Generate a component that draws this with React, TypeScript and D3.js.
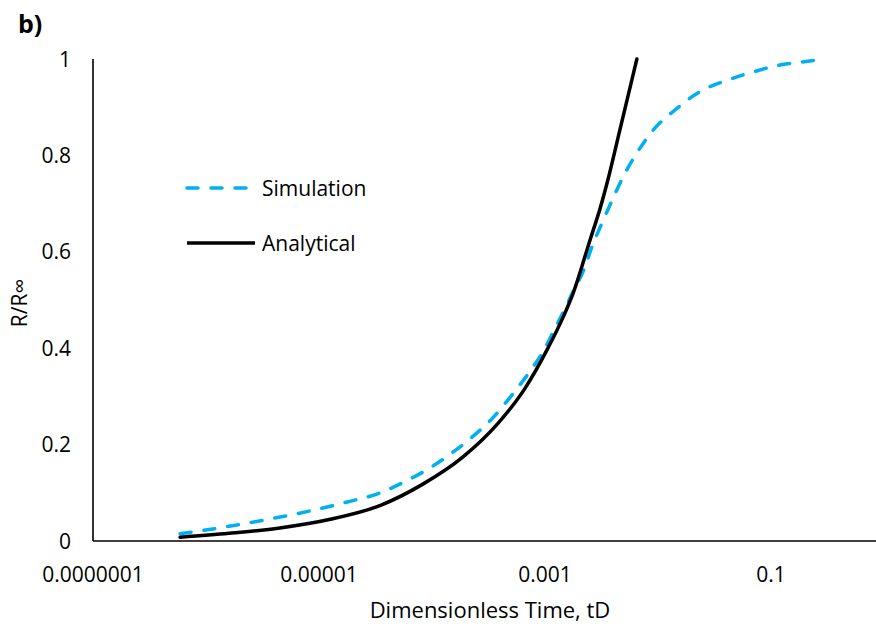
import React from 'react';
import * as d3 from 'd3';

// Simulation (dashed blue) — dimensionless time vs R/R∞
const simT = [
  5.9e-7, 1.15e-6, 3.2e-6, 5.9e-6, 1.02e-5, 1.78e-5, 3.5e-5, 5.5e-5, 9.5e-5, 1.35e-4,
  2.3e-4, 3.5e-4, 5.1e-4, 7.1e-4, 1.0e-3, 1.23e-3, 1.55e-3, 1.74e-3, 2.2e-3, 2.6e-3,
  3.2e-3, 4.2e-3, 4.9e-3, 6.5e-3, 9.1e-3, 0.0148, 0.0234, 0.041, 0.069, 0.112, 0.19, 0.3,
];
const simR = [
  0.015, 0.025, 0.043, 0.055, 0.067, 0.081, 0.1, 0.121, 0.151, 0.175,
  0.217, 0.257, 0.303, 0.347, 0.4, 0.442, 0.488, 0.514, 0.562, 0.61,
  0.66, 0.722, 0.755, 0.805, 0.853, 0.898, 0.932, 0.956, 0.973, 0.986, 0.994, 1.0,
];

// Analytical (solid black)
const anaT = [
  5.9e-7, 1.6e-6, 4.5e-6, 1.26e-5, 3.5e-5, 8.3e-5, 1.87e-4, 3.8e-4, 6.5e-4, 1.05e-3,
  1.45e-3, 1.78e-3, 2.5e-3, 3.1e-3, 3.6e-3, 4.6e-3, 6.5e-3,
];
const anaR = [
  0.008, 0.016, 0.027, 0.045, 0.074, 0.118, 0.174, 0.243, 0.313, 0.398,
  0.465, 0.515, 0.624, 0.693, 0.749, 0.853, 1.0,
];

const xTicks = [1e-7, 1e-5, 1e-3, 0.1];
const xTickLabels = ['0.0000001', '0.00001', '0.001', '0.1'];
const yTicks = [0, 0.2, 0.4, 0.6, 0.8, 1];

const W = 876;
const H = 627;
const FONT = '"Open Sans", sans-serif';

export default function App() {
  const x = d3.scaleLog().domain([1e-7, 1]).range([93, 884]);
  const y = d3.scaleLinear().domain([0, 1]).range([541, 59]);

  const line = d3
    .line<[number, number]>()
    .x((d) => x(d[0]))
    .y((d) => y(d[1]))
    .curve(d3.curveMonotoneX);

  const simPath = line(simT.map((t, i) => [t, simR[i]] as [number, number])) || '';
  const anaPath = line(anaT.map((t, i) => [t, anaR[i]] as [number, number])) || '';

  const [x0, x1] = [93, W];
  const [y0, y1] = y.range();

  return (
    <div style={{ position: 'fixed', left: 0, top: 0 }}>
      <svg width={W} height={H} style={{ display: 'block', background: '#fff' }}>
        <text x={18} y={33} fontFamily={FONT} fontSize={25} fontWeight="bold" fill="#000">
          b)
        </text>

        {/* y tick labels */}
        {yTicks.map((v) => (
          <text
            key={v}
            x={71}
            y={y(v)}
            dy="0.36em"
            textAnchor="end"
            fontFamily={FONT}
            fontSize={21}
            fill="#000"
          >
            {d3.format('~g')(v)}
          </text>
        ))}

        {/* x tick labels */}
        {xTicks.map((v, i) => (
          <text
            key={v}
            x={x(v)}
            y={582}
            textAnchor="middle"
            fontFamily={FONT}
            fontSize={21}
            fill="#000"
          >
            {xTickLabels[i]}
          </text>
        ))}

        {/* axes */}
        <line x1={x0} x2={x0} y1={y1} y2={y0} stroke="#000" strokeWidth={1.6} />
        <line x1={x0} x2={x1} y1={y0} y2={y0} stroke="#000" strokeWidth={1.6} />

        {/* curves */}
        <path
          d={simPath}
          fill="none"
          stroke="#00B0F0"
          strokeWidth={3.5}
          strokeDasharray="11 13"
          strokeLinecap="round"
        />
        <path d={anaPath} fill="none" stroke="#000" strokeWidth={3.5} strokeLinecap="round" />

        {/* legend */}
        <line
          x1={187}
          x2={255}
          y1={188}
          y2={188}
          stroke="#00B0F0"
          strokeWidth={3.5}
          strokeDasharray="11 13"
          strokeLinecap="round"
        />
        <text x={262} y={188} dy="0.36em" fontFamily={FONT} fontSize={21} fill="#000">
          Simulation
        </text>
        <line x1={187} x2={255} y1={243} y2={243} stroke="#000" strokeWidth={3.5} />
        <text x={262} y={243} dy="0.36em" fontFamily={FONT} fontSize={21} fill="#000">
          Analytical
        </text>

        {/* axis titles */}
        <text
          x={490}
          y={618}
          textAnchor="middle"
          fontFamily={FONT}
          fontSize={22}
          fill="#000"
        >
          Dimensionless Time, tD
        </text>
        <text
          transform="translate(27,303) rotate(-90)"
          textAnchor="middle"
          fontFamily={FONT}
          fontSize={21}
          fill="#000"
        >
          R/R∞
        </text>
      </svg>
    </div>
  );
}
